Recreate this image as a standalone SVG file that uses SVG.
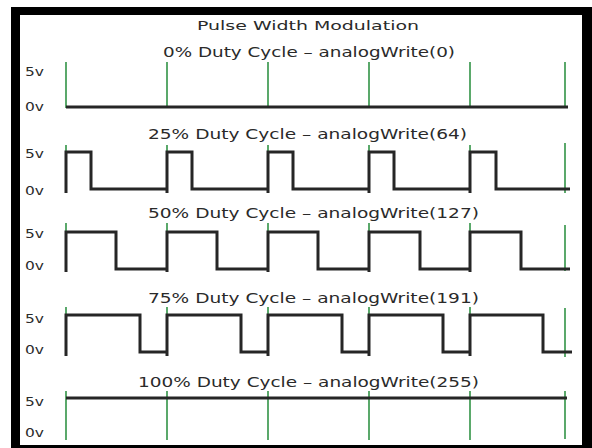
<svg xmlns="http://www.w3.org/2000/svg" width="592" height="448" viewBox="0 0 592 448">
  <style>
    .t { font-family: "DejaVu Sans", "Liberation Sans", sans-serif; fill: #2a2a2a; }
    .title { font-size: 13px; }
    .sub { font-size: 14px; }
    .lv { font-size: 12.5px; }
    .g { stroke: #3f9a52; stroke-width: 1.7; fill: none; }
    .w { stroke: #262626; stroke-width: 3; fill: none; stroke-linejoin: miter; stroke-linecap: butt; }
  </style>
  <rect x="0" y="0" width="592" height="448" fill="#ffffff"/>
  <g id="frame">
    <rect x="11" y="7" width="581" height="441" fill="#000000"/>
    <rect x="20" y="15" width="562" height="430" fill="#ffffff"/>
  </g>
  <g id="title">
    <text class="t title" x="197" y="30" textLength="222" lengthAdjust="spacingAndGlyphs">Pulse Width Modulation</text>
  </g>

  <g id="row-0">
    <text class="t sub" x="163" y="57" textLength="292" lengthAdjust="spacingAndGlyphs">0% Duty Cycle – analogWrite(0)</text>
    <text class="t lv" x="25" y="76" textLength="19" lengthAdjust="spacingAndGlyphs">5v</text>
    <text class="t lv" x="25" y="111" textLength="19" lengthAdjust="spacingAndGlyphs">0v</text>
  </g>
  <g id="row-25">
    <text class="t sub" x="148" y="139" textLength="319" lengthAdjust="spacingAndGlyphs">25% Duty Cycle – analogWrite(64)</text>
    <text class="t lv" x="25" y="158" textLength="19" lengthAdjust="spacingAndGlyphs">5v</text>
    <text class="t lv" x="25" y="195" textLength="19" lengthAdjust="spacingAndGlyphs">0v</text>
  </g>
  <g id="row-50">
    <text class="t sub" x="148" y="218" textLength="331" lengthAdjust="spacingAndGlyphs">50% Duty Cycle – analogWrite(127)</text>
    <text class="t lv" x="25" y="238" textLength="19" lengthAdjust="spacingAndGlyphs">5v</text>
    <text class="t lv" x="25" y="270" textLength="19" lengthAdjust="spacingAndGlyphs">0v</text>
  </g>
  <g id="row-75">
    <text class="t sub" x="148" y="303" textLength="331" lengthAdjust="spacingAndGlyphs">75% Duty Cycle – analogWrite(191)</text>
    <text class="t lv" x="25" y="323" textLength="19" lengthAdjust="spacingAndGlyphs">5v</text>
    <text class="t lv" x="25" y="354" textLength="19" lengthAdjust="spacingAndGlyphs">0v</text>
  </g>
  <g id="row-100">
    <text class="t sub" x="138" y="387" textLength="341" lengthAdjust="spacingAndGlyphs">100% Duty Cycle – analogWrite(255)</text>
    <text class="t lv" x="25" y="406" textLength="19" lengthAdjust="spacingAndGlyphs">5v</text>
    <text class="t lv" x="25" y="437" textLength="19" lengthAdjust="spacingAndGlyphs">0v</text>
  </g>

  <g id="connectors">
    <!-- period markers -->
    <path class="g" d="M66,62V108 M167,62V108 M268,62V108 M369,62V108 M470,62V108 M565,62V108"/>
    <path class="g" d="M66,145V193 M167,145V193 M268,145V193 M369,145V193 M470,145V193 M565,143V193"/>
    <path class="g" d="M66,223V272 M167,223V272 M268,223V272 M369,223V272 M470,223V272 M565,225V271"/>
    <path class="g" d="M66,307V356 M167,307V356 M268,307V356 M369,307V356 M470,307V356 M565,308V357"/>
    <path class="g" d="M66,391V440 M167,391V440 M268,391V440 M369,391V440 M470,391V440 M565,391V439"/>

    <!-- waveforms -->
    <path class="w" d="M66,107H568"/>
    <path class="w" d="M66,193V152H91V189H167V152H192V189H268V152H293V189H369V152H394V189H470V152H496V189H570 M167,189V193 M268,189V193 M369,189V193 M470,189V193"/>
    <path class="w" d="M66,272V232H116V269H167V232H217V269H268V232H318V269H369V232H420V269H470V232H521V269H570 M167,269V272 M268,269V272 M369,269V272 M470,269V272"/>
    <path class="w" d="M66,356V315H140V352H167V315H241V352H268V315H342V352H369V315H443V352H470V315H543V352H572 M167,352V356 M268,352V356 M369,352V356 M470,352V356"/>
    <path class="w" d="M66,398H567"/>
  </g>
</svg>
